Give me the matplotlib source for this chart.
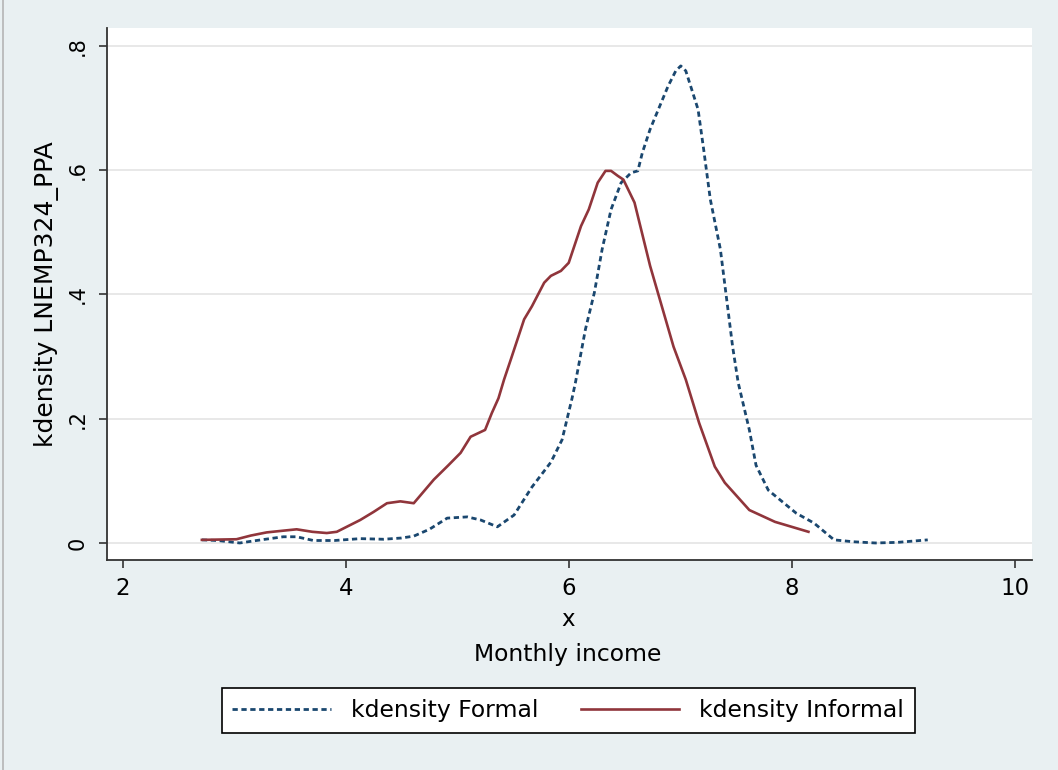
import numpy as np
import matplotlib
matplotlib.use("Agg")
import matplotlib.pyplot as plt
from matplotlib.lines import Line2D

# kdensity curves
formal_x = [2.71, 2.85, 3.05, 3.2, 3.44, 3.56, 3.71, 3.9, 4.13, 4.34, 4.5, 4.61,
            4.75, 4.91, 5.09, 5.21, 5.36, 5.51, 5.67, 5.84, 5.94, 6.03, 6.06, 6.15,
            6.23, 6.30, 6.38, 6.47, 6.56, 6.62, 6.66, 6.73, 6.89, 6.96, 7.005, 7.05,
            7.16, 7.21, 7.27, 7.36, 7.47, 7.52, 7.62, 7.68, 7.79, 8.04, 8.20, 8.38,
            8.55, 8.75, 8.95, 9.22]
formal_y = [0.005, 0.004, 0.0, 0.004, 0.010, 0.010, 0.004, 0.004, 0.007, 0.006, 0.008, 0.011,
            0.022, 0.040, 0.042, 0.037, 0.026, 0.045, 0.090, 0.130, 0.166, 0.233, 0.258, 0.344,
            0.403, 0.473, 0.537, 0.580, 0.596, 0.599, 0.628, 0.666, 0.735, 0.760, 0.768, 0.760,
            0.698, 0.634, 0.553, 0.473, 0.316, 0.258, 0.182, 0.125, 0.085, 0.048, 0.032, 0.005,
            0.002, 0.0, 0.001, 0.005]

informal_x = [2.71, 3.02, 3.15, 3.29, 3.45, 3.56, 3.7, 3.83, 3.92, 4.13, 4.25, 4.37,
              4.49, 4.61, 4.79, 4.92, 5.03, 5.12, 5.25, 5.31, 5.37, 5.42, 5.48, 5.60,
              5.67, 5.78, 5.84, 5.93, 6.00, 6.11, 6.18, 6.26, 6.33, 6.38, 6.44, 6.49,
              6.59, 6.73, 6.94, 7.05, 7.17, 7.31, 7.40, 7.62, 7.85, 8.15]
informal_y = [0.005, 0.006, 0.012, 0.017, 0.020, 0.022, 0.018, 0.016, 0.018, 0.037, 0.050, 0.064,
              0.067, 0.064, 0.102, 0.125, 0.145, 0.171, 0.182, 0.209, 0.233, 0.263, 0.295, 0.360,
              0.381, 0.419, 0.430, 0.438, 0.451, 0.510, 0.537, 0.580, 0.599, 0.599, 0.591, 0.585,
              0.548, 0.446, 0.316, 0.263, 0.193, 0.123, 0.097, 0.053, 0.034, 0.018]

x_ticks = [2, 4, 6, 8, 10]
y_ticks = [0, 0.2, 0.4, 0.6, 0.8]
y_ticklabels = ['0', '.2', '.4', '.6', '.8']

bg = '#e9f0f2'
navy = '#1a476f'
maroon = '#90353b'

plt.rcParams['font.family'] = 'DejaVu Sans'

fig = plt.figure(figsize=(10.58, 7.70), dpi=100, facecolor=bg)
ax = fig.add_axes([107/1058, 1 - 560/770, (1032 - 107)/1058, (560 - 28)/770])
ax.set_facecolor('white')

ax.plot(formal_x, formal_y, color=navy, lw=2.0, dashes=(1.9, 1.3), label='kdensity Formal')
ax.plot(informal_x, informal_y, color=maroon, lw=1.9, label='kdensity Informal')

ax.set_xlim(1.859, 10.155)
ax.set_ylim(-0.0274, 0.829)

ax.set_xticks(x_ticks)
ax.set_xticklabels([str(t) for t in x_ticks], fontsize=16.5)
ax.set_yticks(y_ticks)
ax.set_yticklabels(y_ticklabels, fontsize=15, rotation=90, va='center')
ax.tick_params(direction='out', length=6, width=1.2, color='#333333', pad=8)
ax.tick_params(axis='x', pad=6)

ax.grid(axis='y', color='#e6e6e6', lw=1.3)
ax.set_axisbelow(True)
for side in ['top', 'right']:
    ax.spines[side].set_visible(False)
for side in ['left', 'bottom']:
    ax.spines[side].set_color('#333333')
    ax.spines[side].set_linewidth(1.3)

ax.set_ylabel('kdensity LNEMP324_PPA', fontsize=18, labelpad=6)
fig.text(568/1058, 1 - 620/770, 'x', fontsize=16.5, ha='center', va='center')
fig.text(568/1058, 1 - 655/770, 'Monthly income', fontsize=16.9, ha='center', va='center')

leg = fig.legend(loc='center', bbox_to_anchor=(0.537, 1 - 710.5/770), ncol=2,
                 fontsize=16.9, frameon=True, fancybox=False, edgecolor='black',
                 framealpha=1, handlelength=4.2, handletextpad=0.85,
                 columnspacing=1.8, borderpad=0.45, borderaxespad=0)
leg.get_frame().set_linewidth(1.2)

fig.add_artist(Line2D([3/1058, 3/1058], [0, 1], transform=fig.transFigure,
                      color='#b5b5b5', lw=1.2))

fig.savefig('out.png', dpi=100, facecolor=bg)
